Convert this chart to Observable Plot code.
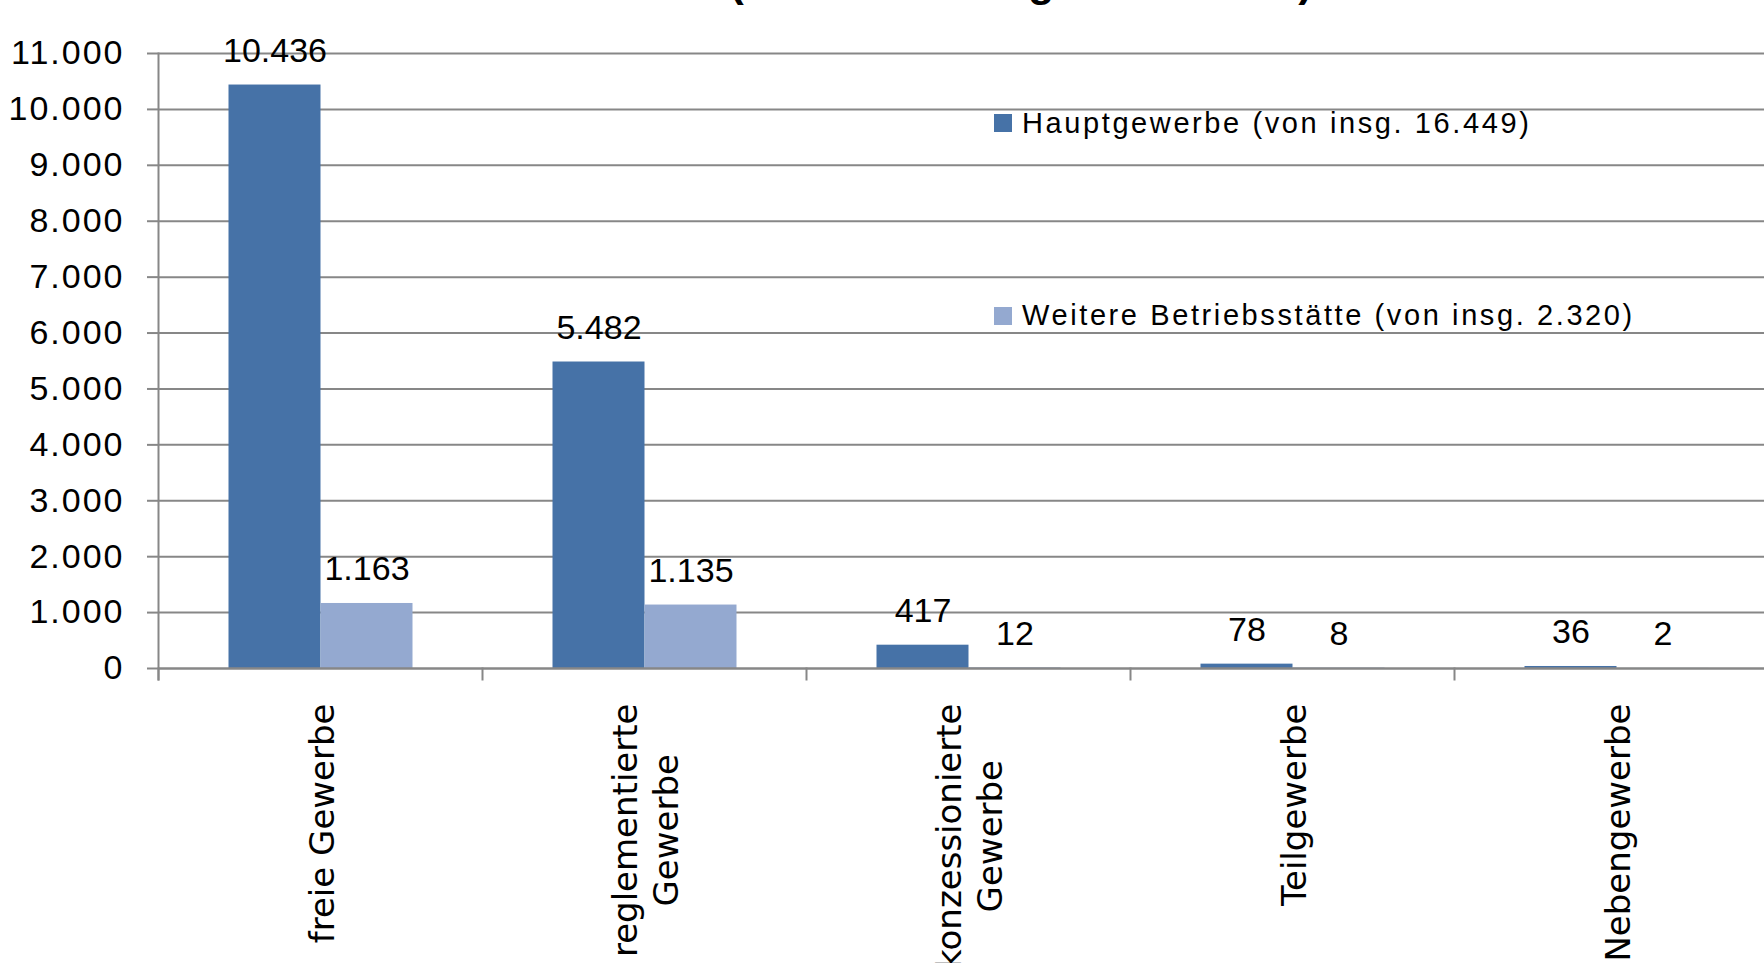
<!DOCTYPE html>
<html><head><meta charset="utf-8">
<script src="https://cdn.jsdelivr.net/npm/d3@7"></script>
<script src="https://cdn.jsdelivr.net/npm/@observablehq/plot@0.6"></script>
<style>
html,body{margin:0;padding:0;background:#fff;overflow:hidden;}
#wrap{position:relative;width:1764px;height:963px;overflow:hidden;background:#fff;}
#title{position:absolute;left:1021px;top:-40px;transform:translateX(-50%);white-space:nowrap;font-family:"Liberation Sans",Arial,sans-serif;font-weight:bold;font-size:43px;line-height:1;color:#000;}
#legend{position:absolute;left:994px;top:108px;font-family:"Liberation Sans",Arial,sans-serif;font-size:29px;letter-spacing:2.6px;color:#000;display:flex;flex-direction:column;gap:162.5px;}
#legend .item{display:flex;align-items:center;height:30px;white-space:nowrap;}
#legend .sw{width:18px;height:18px;margin-right:10px;flex:none;}
.gw g[aria-label="y-axis tick label"] text,
.gw g[aria-label="wert"] text{letter-spacing:2px;}
</style></head>
<body><div id="wrap"><div id="title">(Neuanmeldungen seit 2010)</div></div>
<script>
// ---- data ----
const categories = ["freie Gewerbe", "reglementierte\nGewerbe", "konzessionierte\nGewerbe", "Teilgewerbe", "Nebengewerbe"];
const seriesNames = ["Hauptgewerbe (von insg. 16.449)", "Weitere Betriebsstätte (von insg. 2.320)"];
const hauptgewerbe = [10436, 5482, 417, 78, 36];
const weitereBetriebsstaette = [1163, 1135, 12, 8, 2];
const yTicks = [0, 1000, 2000, 3000, 4000, 5000, 6000, 7000, 8000, 9000, 10000, 11000];

// ---- styles ----
const seriesColors = ["#4672a7", "#94a9d0"];
const gridColor = "#878787";
const W = 1764, H = 963;
const mTop = 53, mBottom = 295, mLeft = 157.5, mRight = -13.5;
const tickLen = 11;
const catFont = 34, catFamily = "DejaVu Sans";

const fmt = d3.formatLocale({decimal: ",", thousands: ".", grouping: [3], currency: ["", " €"]}).format(",d");

const rows = [];
categories.forEach((c, i) => {
  rows.push({category: c, series: seriesNames[0], value: hauptgewerbe[i]});
  rows.push({category: c, series: seriesNames[1], value: weitereBetriebsstaette[i]});
});

// measure category label lines to center multi-line labels like the original
const ctx = document.createElement("canvas").getContext("2d");
ctx.font = `${catFont}px "${catFamily}"`;
const labelWidth = c => Math.max(...c.split("\n").map(l => ctx.measureText(l).width));

const frameH = H - mTop - mBottom;

const chart = Plot.plot({
  width: W, height: H,
  className: "gw",
  marginTop: mTop, marginBottom: mBottom, marginLeft: mLeft, marginRight: mRight,
  style: {fontFamily: "Liberation Sans, Arial, sans-serif", background: "transparent", overflow: "hidden"},
  fx: {domain: categories, padding: 0, axis: null},
  x: {domain: seriesNames, paddingInner: 0, paddingOuter: 0.7514, axis: null},
  y: {domain: [0, 11000], axis: null},
  color: {domain: seriesNames, range: seriesColors},
  marks: [
    Plot.ruleY(yTicks.filter(d => d > 0), {stroke: gridColor, strokeWidth: 2}),
    Plot.barY(rows, {fx: "category", x: "series", y: "value", fill: "series"}),
    Plot.ruleY([0], {stroke: gridColor, strokeWidth: 2.5}),
    // category boundary ticks below the axis
    Plot.frame({anchor: "left", stroke: gridColor, strokeWidth: 2, insetTop: frameH, insetBottom: -tickLen}),
    // value axis line
    Plot.frame({anchor: "left", stroke: gridColor, strokeWidth: 2, insetBottom: -tickLen, facetAnchor: "left"}),
    Plot.axisY({ticks: yTicks, tickFormat: fmt, tickSize: tickLen, tickPadding: 23, fontSize: 34, stroke: gridColor, strokeWidth: 2, label: null, color: "#000"}),
    Plot.text(rows, {fx: "category", x: "series", y: "value", text: d => fmt(d.value), lineAnchor: "bottom", dy: -23, fontSize: 34, fill: "#000", ariaLabel: "wert"}),
    ...categories.map(c => Plot.text([c], {
      fx: d => d, frameAnchor: "bottom", text: d => d, rotate: -90,
      textAnchor: "middle", lineAnchor: "middle", lineHeight: 1.2,
      dy: 35 + labelWidth(c) / 2, fontSize: catFont, fontFamily: catFamily, fill: "#000"
    }))
  ]
});
const wrap = document.getElementById("wrap");
chart.style.position = "absolute";
chart.style.left = "0";
chart.style.top = "0";
chart.style.maxWidth = "none";
wrap.insertBefore(chart, wrap.firstChild);

// legend (overlaid inside the plot area, as in the original)
const legend = document.createElement("div");
legend.id = "legend";
seriesNames.forEach((s, i) => {
  const it = document.createElement("div");
  it.className = "item";
  const sw = document.createElement("span");
  sw.className = "sw";
  sw.style.background = seriesColors[i];
  const tx = document.createElement("span");
  tx.textContent = s;
  it.appendChild(sw); it.appendChild(tx);
  legend.appendChild(it);
});
wrap.appendChild(legend);
</script>
</body></html>
